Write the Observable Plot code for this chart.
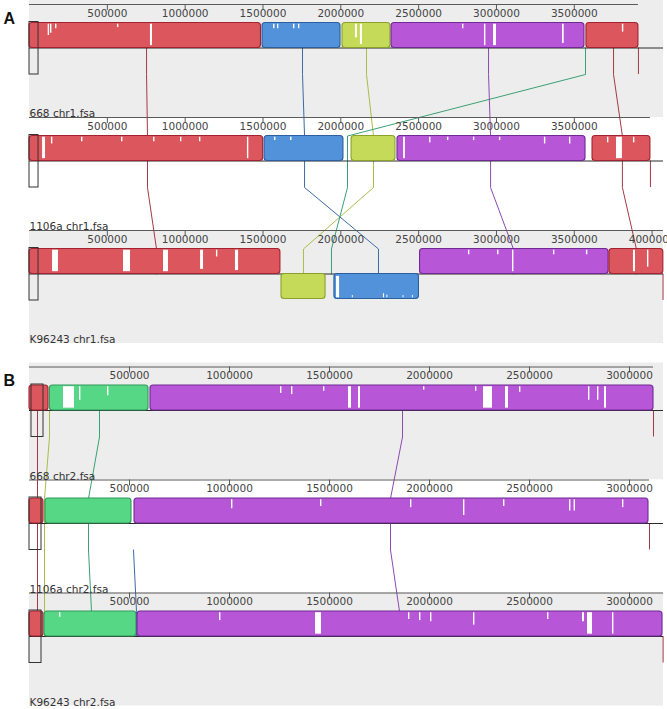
<!DOCTYPE html>
<html><head><meta charset="utf-8">
<script src="https://cdn.jsdelivr.net/npm/d3@7"></script>
<script src="https://cdn.jsdelivr.net/npm/@observablehq/plot@0.6"></script>
<style>
html,body{margin:0;padding:0;background:#fff;}
body{width:667px;height:709px;overflow:hidden;}
#chart svg{display:block;}
</style></head>
<body><div id="chart"></div>
<script>
// ---------------- Panel A: chromosome 1 ----------------
const genomesA = ["668 chr1.fsa", "1106a chr1.fsa", "K96243 chr1.fsa"];
const lengthsA = [3912000, 3989000, 4072000];
const ticksA = [
  [500000, 1000000, 1500000, 2000000, 2500000, 3000000, 3500000],
  [500000, 1000000, 1500000, 2000000, 2500000, 3000000, 3500000],
  [500000, 1000000, 1500000, 2000000, 2500000, 3000000, 3500000, 4000000]
];
// [genome, start, end, strand (1 forward, -1 reverse), LCB]
const blocksA = [
  [0, 0, 1487000, 1, "red"], [0, 1497000, 1998000, 1, "blue"], [0, 2011000, 2319000, 1, "yellow"],
  [0, 2326000, 3565000, 1, "magenta"], [0, 3578000, 3912000, 1, "red"],
  [1, 0, 1501000, 1, "red"], [1, 1510000, 2017000, 1, "blue"], [1, 2069000, 2351000, 1, "yellow"],
  [1, 2364000, 3572000, 1, "magenta"], [1, 3617000, 3989000, 1, "red"],
  [2, 0, 1612000, 1, "red"], [2, 1619000, 1902000, -1, "yellow"], [2, 1959000, 2502000, -1, "blue"],
  [2, 2509000, 3720000, 1, "magenta"], [2, 3726000, 4072000, 1, "red"]
];
// [genome, start, end, depth of low-similarity region]
const gapsA = [
  [0, 120000, 129000, 0.5], [0, 135000, 144000, 0.4], [0, 167000, 176000, 0.2], [0, 565000, 574000, 0.15],
  [0, 777000, 790000, 0.95], [0, 1568000, 1577000, 0.2], [0, 1593000, 1602000, 0.2], [0, 1696000, 1705000, 0.2],
  [0, 1728000, 1737000, 0.2], [0, 2094000, 2107000, 0.6], [0, 2126000, 2139000, 0.9], [0, 2782000, 2791000, 0.2],
  [0, 2923000, 2932000, 0.95], [0, 2981000, 3000000, 0.95], [0, 3424000, 3435000, 0.85], [0, 3809000, 3818000, 0.35],
  [1, 84000, 103000, 0.95], [1, 141000, 150000, 0.3], [1, 334000, 343000, 0.2], [1, 591000, 600000, 0.2],
  [1, 797000, 806000, 0.2], [1, 970000, 979000, 0.2], [1, 1092000, 1101000, 0.2], [1, 1400000, 1409000, 0.95],
  [1, 1574000, 1583000, 0.15], [1, 1677000, 1686000, 0.15], [1, 2403000, 2415000, 0.95], [1, 2570000, 2579000, 0.25],
  [1, 2685000, 2694000, 0.15], [1, 2852000, 2861000, 0.15], [1, 3019000, 3028000, 0.15], [1, 3308000, 3317000, 0.3],
  [1, 3469000, 3478000, 0.3], [1, 3713000, 3722000, 0.25], [1, 3771000, 3809000, 0.95], [1, 3880000, 3889000, 0.25],
  [2, 148000, 186000, 0.95], [2, 604000, 649000, 0.95], [2, 861000, 893000, 0.95], [2, 1099000, 1118000, 0.85],
  [2, 1201000, 1210000, 0.3], [2, 1323000, 1343000, 0.9], [2, 2820000, 2829000, 0.2], [2, 3007000, 3016000, 0.2],
  [2, 3103000, 3112000, 0.95], [2, 3366000, 3375000, 0.2], [2, 3578000, 3587000, 0.2], [2, 3880000, 3893000, 0.95],
  [2, 3970000, 3979000, 0.75], [2, 1972000, 1992000, 0.95], [2, 2074000, 2080000, 0.1], [2, 2274000, 2281000, 0.18],
  [2, 2296000, 2302000, 0.12], [2, 2400000, 2406000, 0.1], [2, 2460000, 2466000, 0.1]
];
// [LCB, position in genome 1, genome 2, genome 3]
const connectorsA = [
  ["red", 752000, 758000, 816000],
  ["blue", 1754000, 1767000, 2242000],
  ["yellow", 2165000, 2210000, 1760000],
  ["green", 3572000, 2043000, 1940000],
  ["magenta", 2949000, 2962000, 3109000],
  ["red", 3752000, 3809000, 3899000]
];
const stubsA = [[0, 3912000], [1, 3989000], [2, 4070000]];
const boxesA = [[0, 0, 58000], [1, 0, 58000], [2, 0, 58000]];

// ---------------- Panel B: chromosome 2 ----------------
const genomesB = ["668 chr2.fsa", "1106a chr2.fsa", "K96243 chr2.fsa"];
const lengthsB = [3120000, 3100000, 3170000];
const ticksB = [
  [500000, 1000000, 1500000, 2000000, 2500000, 3000000],
  [500000, 1000000, 1500000, 2000000, 2500000, 3000000],
  [500000, 1000000, 1500000, 2000000, 2500000, 3000000]
];
const blocksB = [
  [0, 0, 95000, 1, "red"], [0, 102000, 595000, 1, "green"], [0, 605000, 3120000, 1, "magenta"],
  [1, 0, 70000, 1, "red"], [1, 80000, 510000, 1, "green"], [1, 525000, 3095000, 1, "magenta"],
  [2, 0, 70000, 1, "red"], [2, 75000, 535000, 1, "green"], [2, 540000, 3165000, 1, "magenta"]
];
const gapsB = [
  [0, 170000, 225000, 0.95], [0, 250000, 257000, 0.6], [0, 390000, 397000, 0.4],
  [0, 1255000, 1262000, 0.3], [0, 1310000, 1317000, 0.35], [0, 1470000, 1477000, 0.2], [0, 1595000, 1610000, 0.95],
  [0, 1645000, 1655000, 0.95], [0, 1970000, 1977000, 0.15], [0, 2230000, 2237000, 0.2], [0, 2270000, 2315000, 0.95],
  [0, 2380000, 2395000, 0.95], [0, 2450000, 2457000, 0.25], [0, 2795000, 2802000, 0.6], [0, 2840000, 2847000, 0.6],
  [0, 2875000, 2885000, 0.95],
  [1, 1010000, 1017000, 0.4], [1, 1455000, 1462000, 0.3], [1, 1905000, 1912000, 0.35], [1, 2170000, 2177000, 0.7],
  [1, 2370000, 2377000, 0.3], [1, 2700000, 2707000, 0.5], [1, 2723000, 2730000, 0.5], [1, 2965000, 2972000, 0.35],
  [2, 150000, 157000, 0.2], [2, 950000, 957000, 0.35], [2, 1430000, 1460000, 0.95], [2, 1895000, 1902000, 0.3],
  [2, 1950000, 1957000, 0.35], [2, 2005000, 2012000, 0.4], [2, 2220000, 2227000, 0.55], [2, 2590000, 2597000, 0.3],
  [2, 2765000, 2775000, 0.4], [2, 2790000, 2815000, 0.95], [2, 2915000, 2922000, 0.95]
];
const connectorsB = [
  ["red", 40000, 40000, 40000],
  ["yellow", 100000, 75000, 75000],
  ["green", 350000, 295000, 310000],
  ["blue", null, 520000, 535000],
  ["magenta", 1865000, 1805000, 1850000]
];
const stubsB = [[0, 3120000], [1, 3100000], [2, 3168000]];
const boxesB = [[0, 10000, 70000], [1, 0, 60000], [2, 0, 60000]];

// ---------------- styles ----------------
const fillColor = {red: "#dc565d", blue: "#5192da", yellow: "#c6da5a", magenta: "#b856d8", green: "#56d786"};
const edgeColor = {red: "#a3222f", blue: "#2d5e9e", yellow: "#8aa22c", magenta: "#6f2b93", green: "#2f9a5b"};
const lineColor = {red: "#a33a47", blue: "#3d6aa8", yellow: "#a9bd4a", magenta: "#8c4bb0", green: "#3aa077"};
const bgColors = ["#ededed", "#ffffff", "#ededed"];

function panel(cfg) {
  const {genomes, lengths, ticks, blocks, gaps, connectors, stubs, boxes, letter, xMax, height, rulerTop, bgTop} = cfg;
  const step = 113, H = 25;
  const ruler = i => rulerTop + step * i;
  const center = i => ruler(i) + 43.5;
  const top = i => center(i) - H;
  const bend = i => center(i) + 26.5;

  const tracks = genomes.map((g, i) => ({
    i, name: g, len: lengths[i],
    y1: i === 0 ? bgTop : ruler(i),
    y2: ruler(i) + step,
    bg: bgColors[i]
  }));
  const tickData = ticks.flatMap((arr, i) => arr.map(v => ({i, v})));
  const blockData = blocks.map(([i, s, e, strand, lcb]) => ({
    i, s, e, lcb,
    y1: strand > 0 ? top(i) : center(i),
    y2: strand > 0 ? center(i) : center(i) + H
  }));
  const gapData = gaps.map(([i, s, e, d]) => {
    const b = blocks.find(b => b[0] === i && s >= b[1] - 1 && s <= b[2]);
    const strand = b ? b[3] : 1;
    if (strand > 0) {
      const y1 = top(i) + 1.2;
      return {s, e, y1, y2: y1 + d * (H - 2.4)};
    } else {
      const y2 = center(i) + H - 1.2;
      return {s, e, y1: y2 - d * (H - 2.4), y2};
    }
  });
  const pts = [];
  connectors.forEach(([lcb, ...ps], k) => {
    const present = ps.map((p, i) => [p, i]).filter(([p]) => p != null);
    present.forEach(([p, i], j) => {
      const c = lineColor[lcb];
      if (j === 0) {
        if (i === 0) pts.push({k, c, x: p, y: center(i)});
        pts.push({k, c, x: p, y: bend(i)});
      } else {
        pts.push({k, c, x: p, y: top(i)});
        pts.push({k, c, x: p, y: j === present.length - 1 ? center(i) : bend(i)});
      }
    });
  });

  return Plot.plot({
    width: 667, height,
    marginLeft: 29, marginRight: 4, marginTop: 0, marginBottom: 0,
    x: {domain: [0, xMax], axis: null},
    y: {domain: [0, height], range: [0, height], axis: null},
    color: {type: "identity"},
    style: {fontFamily: "DejaVu Sans, sans-serif", fontSize: "10.5px", background: "transparent", overflow: "visible"},
    marks: [
      Plot.rect(tracks, {x1: () => 0, x2: () => xMax, y1: "y1", y2: "y2", fill: "bg"}),
      Plot.line(pts, {x: "x", y: "y", z: "k", stroke: "c", strokeWidth: 1, curve: "linear"}),
      Plot.ruleX(stubs, {x: d => d[1], y1: d => center(d[0]), y2: d => bend(d[0]), stroke: lineColor.red, strokeWidth: 1}),
      Plot.ruleY(tracks, {y: d => ruler(d.i), x1: () => 0, x2: "len", stroke: "#5a5a5a", strokeWidth: 1}),
      Plot.ruleX(tickData, {x: "v", y1: d => ruler(d.i), y2: d => ruler(d.i) + 6, stroke: "#5a5a5a", strokeWidth: 1}),
      Plot.text(tickData, {x: "v", y: d => ruler(d.i) + 12, text: d => String(d.v), lineAnchor: "bottom", fill: "#444", fontSize: 10.5}),
      Plot.ruleY(tracks, {y: d => center(d.i), x1: () => 0, x2: () => xMax, stroke: "#2a2a2a", strokeWidth: 1}),
      Plot.rect(blockData, {x1: "s", x2: "e", y1: "y1", y2: "y2", fill: d => fillColor[d.lcb], stroke: d => edgeColor[d.lcb], strokeWidth: 1.1, rx: 3}),
      Plot.rect(gapData, {x1: "s", x2: "e", y1: "y1", y2: "y2", fill: "#ffffff"}),
      Plot.rect(boxes, {x1: d => d[1], x2: d => d[2], y1: d => top(d[0]) - 1, y2: d => bend(d[0]), fill: "none", stroke: "#333", strokeWidth: 1}),
      Plot.text(tracks, {x: () => 0, y: d => ruler(d.i) + 112.5, text: "name", textAnchor: "start", lineAnchor: "bottom", fill: "#333", fontSize: 10.5}),
      Plot.text([letter], {x: () => 0, y: () => ruler(0) + 19, dx: -26, text: d => d, textAnchor: "start", lineAnchor: "bottom", fontSize: 16, fontWeight: "bold", fontFamily: "Liberation Sans, Arial, sans-serif", fill: "#111"})
    ]
  });
}

const chart = document.getElementById("chart");
chart.appendChild(panel({
  genomes: genomesA, lengths: lengthsA, ticks: ticksA, blocks: blocksA, gaps: gapsA,
  connectors: connectorsA, stubs: stubsA, boxes: boxesA, letter: "A",
  xMax: 4073000, height: 350, rulerTop: 4, bgTop: 0
}));
chart.appendChild(panel({
  genomes: genomesB, lengths: lengthsB, ticks: ticksB, blocks: blocksB, gaps: gapsB,
  connectors: connectorsB, stubs: stubsB, boxes: boxesB, letter: "B",
  xMax: 3170000, height: 359, rulerTop: 16.5, bgTop: 12.5
}));
</script>
</body></html>
